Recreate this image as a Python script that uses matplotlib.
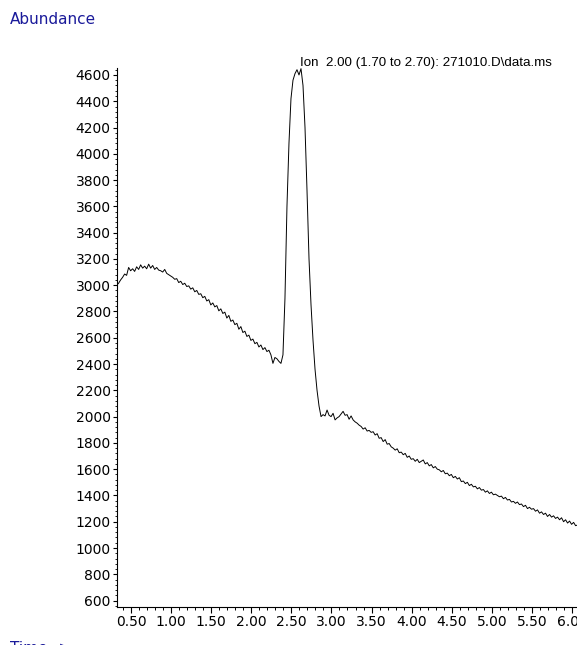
import numpy as np
import matplotlib
matplotlib.use("Agg")
import matplotlib.pyplot as plt
from matplotlib.ticker import MultipleLocator, FixedLocator

# Scan time grid (min): start and step of the acquisition
t_start = 0.32
t_step = 0.025

abundance = [
    3000, 3015, 3040, 3060, 3085, 3075, 3135, 3110, 3125, 3105,
    3140, 3120, 3155, 3130, 3145, 3125, 3160, 3130, 3150, 3120,
    3135, 3115, 3110, 3100, 3120, 3090, 3080, 3070, 3060, 3045,
    3050, 3020, 3030, 3005, 3015, 2990, 2995, 2970, 2980, 2950,
    2960, 2930, 2935, 2905, 2915, 2880, 2890, 2850, 2865, 2835,
    2845, 2805, 2820, 2785, 2795, 2750, 2770, 2725, 2735, 2700,
    2710, 2665, 2685, 2640, 2650, 2610, 2620, 2580, 2590, 2555,
    2565, 2530, 2545, 2510, 2525, 2495, 2505, 2470, 2405, 2450,
    2440, 2420, 2405, 2470, 2900, 3600, 4080, 4420, 4560, 4610,
    4640, 4600, 4648, 4520, 4200, 3720, 3200, 2850, 2580, 2360,
    2200, 2080, 2000, 2015, 2005, 2050, 2010, 2000, 2025, 1975,
    1990, 2000, 2020, 2040, 2010, 2015, 1980, 2005, 1975, 1960,
    1950, 1935, 1925, 1905, 1915, 1890, 1895, 1880, 1885, 1860,
    1870, 1835, 1840, 1810, 1825, 1790, 1795, 1770, 1760, 1745,
    1755, 1725, 1730, 1710, 1720, 1690, 1700, 1675, 1680, 1660,
    1675, 1650, 1660, 1670, 1640, 1650, 1625, 1635, 1610, 1620,
    1600, 1595, 1580, 1590, 1565, 1570, 1550, 1560, 1535, 1545,
    1525, 1535, 1505, 1510, 1490, 1500, 1475, 1485, 1465, 1470,
    1450, 1460, 1440, 1445, 1425, 1435, 1415, 1425, 1405, 1410,
    1400, 1390, 1395, 1375, 1385, 1365, 1370, 1350, 1355, 1340,
    1350, 1330, 1335, 1315, 1325, 1300, 1310, 1295, 1300, 1280,
    1290, 1265, 1275, 1255, 1265, 1240, 1255, 1235, 1245, 1225,
    1235, 1215, 1230, 1200, 1215, 1190, 1205, 1180, 1195, 1170, 1175,
]
time = t_start + t_step * np.arange(len(abundance))

x_ticks = [0.5, 1.0, 1.5, 2.0, 2.5, 3.0, 3.5, 4.0, 4.5, 5.0, 5.5, 6.0]
x_tick_labels = ["0.50", "1.00", "1.50", "2.00", "2.50", "3.00",
                 "3.50", "4.00", "4.50", "5.00", "5.50", "6.00"]
y_ticks = list(range(600, 4601, 200))

title = "Ion  2.00 (1.70 to 2.70): 271010.D\\data.ms"

plt.rcParams['font.family'] = ['DejaVu Sans']

fig = plt.figure(figsize=(5.77, 6.45), dpi=100)
ax = fig.add_axes([117/577, 38/645, 463/577, 539/645])
ax.plot(time, abundance, color="black", linewidth=0.7)

ax.set_xlim(0.325, 6.10)
ax.set_ylim(551, 4653)

for s in ["top", "right"]:
    ax.spines[s].set_visible(False)
for s in ["left", "bottom"]:
    ax.spines[s].set_linewidth(0.8)

ax.xaxis.set_major_locator(FixedLocator(x_ticks))
ax.set_xticklabels(x_tick_labels)
ax.xaxis.set_minor_locator(MultipleLocator(0.1))
ax.yaxis.set_major_locator(FixedLocator(y_ticks))
ax.yaxis.set_minor_locator(MultipleLocator(40))

ax.tick_params(axis="x", which="major", direction="out", length=4, width=0.8,
               pad=1.5, labelsize=10, colors="black")
ax.tick_params(axis="x", which="minor", direction="out", length=2.5, width=0.7)
ax.tick_params(axis="y", which="major", direction="out", length=3, width=0.8,
               pad=1.5, labelsize=10)
ax.tick_params(axis="y", which="minor", direction="out", length=1.2, width=0.6)

fig.text(10/577, 1 - 19/645, "Abundance", color="#1a1a9a", fontsize=11,
         ha="left", va="center")
fig.text(10/577, 1 - 641/645, "Time-->", color="#1a1a9a", fontsize=11,
         ha="left", va="top")
fig.text(300/577, 1 - 63/645, title, family=["Liberation Sans"], fontsize=9.6,
         ha="left", va="center", color="black")

fig.savefig("out.png", dpi=100)
